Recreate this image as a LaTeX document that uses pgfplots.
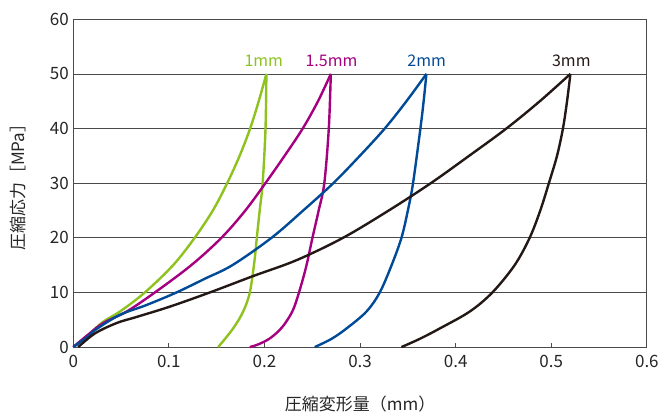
\documentclass[border=0pt]{standalone}
\usepackage{fontspec}
\setmainfont{Noto Sans CJK JP}
\usepackage{pgfplots}
\pgfplotsset{compat=1.18}

\definecolor{cgreen}{HTML}{8DC21F}
\definecolor{cmag}{HTML}{A4007F}
\definecolor{cblue}{HTML}{004A98}
\definecolor{cblack}{HTML}{231815}
\definecolor{cgrid}{HTML}{4A4A4A}

\begin{document}
\begin{tikzpicture}
\begin{axis}[
    width=574pt, height=328pt,
    scale only axis,
    xmin=0, xmax=0.6, ymin=0, ymax=60,
    xtick={0,0.1,0.2,0.3,0.4,0.5,0.6},
    xticklabels={0,0.1,0.2,0.3,0.4,0.5,0.6},
    ytick={0,10,20,30,40,50,60},
    xtick pos=bottom,
    ytick pos=left,
    tick align=inside,
    major tick length=4pt,
    ytick style={draw=none},
    xtick style={cgrid, line width=0.8pt},
    ymajorgrids,
    grid style={cgrid, line width=0.7pt},
    axis line style={cgrid, line width=1.1pt},
    /pgf/number format/assume math mode=true,
    tick label style={font=\fontsize{17}{19}\selectfont, text=black!85},
    xticklabel style={yshift=-5pt},
    yticklabel style={xshift=-1pt},
    label style={font=\fontsize{17}{19}\selectfont, text=black!85},
    xlabel={圧縮変形量（mm）},
    ylabel={圧縮応力［MPa］},
    xlabel style={at={(axis description cs:0.5,0)}, anchor=center, yshift=-57pt},
    ylabel style={at={(axis description cs:0,0.5)}, anchor=center, xshift=0pt, yshift=55pt},
    clip=false,
]
% 1mm
\addplot[cgreen, line width=2.4pt, smooth, tension=0.55] coordinates {(0,0) (0.015,2.1) (0.031,4.6) (0.0488,6.5) (0.0749,10) (0.1045,15) (0.127,20) (0.146,25) (0.161,30) (0.174,35) (0.185,40) (0.194,45) (0.202,50)};
\addplot[cgreen, line width=2.4pt, smooth, tension=0.55] coordinates {(0.202,50) (0.2011,40) (0.1981,30) (0.195,25) (0.192,20) (0.1895,15.7) (0.1847,10) (0.1777,6.5) (0.1672,3.4) (0.1516,0)};
% 1.5mm
\addplot[cmag, line width=2.4pt, smooth, tension=0.55] coordinates {(0,0) (0.015,2.2) (0.0314,4.4) (0.0558,6.5) (0.0854,10) (0.1235,15) (0.155,20) (0.180,25) (0.201,30) (0.221,35) (0.240,40) (0.256,45) (0.2694,50)};
\addplot[cmag, line width=2.4pt, smooth, tension=0.55] coordinates {(0.2694,50) (0.2673,40) (0.2626,30) (0.2567,25) (0.2502,20) (0.244,15) (0.2375,10.8) (0.2304,7) (0.2226,4.6) (0.2152,3) (0.2049,1.5) (0.1936,0.5) (0.1847,0)};
% 2mm
\addplot[cblue, line width=2.4pt, smooth, tension=0.55] coordinates {(0,0) (0.015,1.9) (0.0244,3.3) (0.0488,5.9) (0.0767,7.7) (0.108,10) (0.1375,12.5) (0.1665,15) (0.2074,20) (0.2405,25) (0.272,30) (0.2997,35) (0.3258,40) (0.3485,45) (0.3694,50)};
\addplot[cblue, line width=2.4pt, smooth, tension=0.55] coordinates {(0.3694,50) (0.3665,45) (0.3631,40) (0.3554,30) (0.350,25) (0.3433,20) (0.333,15) (0.3206,10) (0.3067,6.5) (0.2858,3.4) (0.2701,1.5) (0.2526,0)};
% 3mm
\addplot[cblack, line width=2.4pt, smooth, tension=0.55] coordinates {(0.0052,0) (0.0227,2.5) (0.0454,4.4) (0.066,5.5) (0.101,7.4) (0.1429,10) (0.1882,13) (0.2335,15.9) (0.2822,20) (0.330,25) (0.374,30) (0.414,35) (0.453,40) (0.488,45) (0.520,50)};
\addplot[cblack, line width=2.4pt, smooth, tension=0.55] coordinates {(0.520,50) (0.5165,45) (0.5122,40) (0.506,35) (0.4975,30) (0.4885,25) (0.4774,20) (0.4617,15) (0.4384,10) (0.4147,6.5) (0.3833,3.4) (0.3624,1.5) (0.3433,0)};

\node[text=cgreen, font=\fontsize{16}{18}\selectfont] at (axis cs:0.1993,52.4) {1mm};
\node[text=cmag, font=\fontsize{16}{18}\selectfont] at (axis cs:0.2701,52.4) {1.5mm};
\node[text=cblue, font=\fontsize{16}{18}\selectfont] at (axis cs:0.3697,52.4) {2mm};
\node[text=cblack, font=\fontsize{16}{18}\selectfont] at (axis cs:0.5210,52.4) {3mm};
\end{axis}
\path ([shift={(-73.3pt,-64.3pt)}]current axis.south west) rectangle ([shift={(14.7pt,19.3pt)}]current axis.north east);
\end{tikzpicture}
\end{document}
